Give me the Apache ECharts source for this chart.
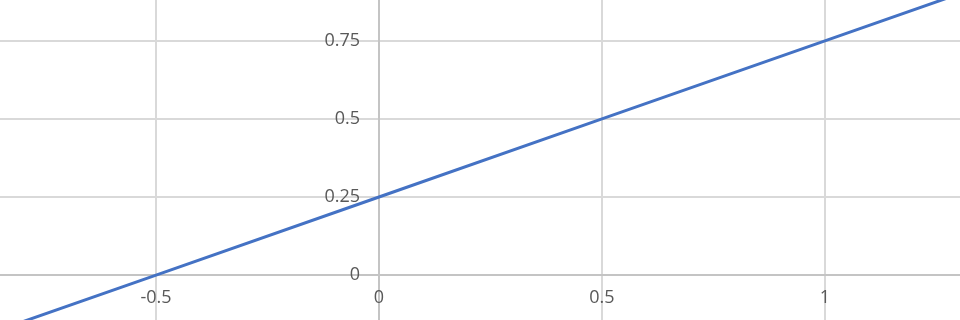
<!DOCTYPE html>
<html><head><meta charset="utf-8">
<script src="https://cdn.jsdelivr.net/npm/echarts@6/dist/echarts.min.js"></script>
<style>html,body{margin:0;padding:0;background:#fff;overflow:hidden}#c{width:960px;height:320px}</style>
</head><body><div id="c"></div>
<script>
var xValues = [-0.85, -0.5, 0, 0.5, 1, 1.3];
var yValues = [-0.175, 0, 0.25, 0.5, 0.75, 0.9];
var xTicks = [-0.5, 0, 0.5, 1];
var yTicks = [0, 0.25, 0.5, 0.75];
var xRange = [-0.85, 1.303];
var yRange = [-0.144, 0.881];

var chart = echarts.init(document.getElementById('c'), null, {renderer: 'canvas'});
var pts = xValues.map(function (x, i) { return [x, yValues[i]]; });
var font = {color: '#595959', fontSize: 18, fontFamily: 'Open Sans'};
var W = 960, H = 320;
var xZeroOffset = -H * (0 - yRange[0]) / (yRange[1] - yRange[0]);
var yZeroOffset = -W * (0 - xRange[0]) / (xRange[1] - xRange[0]);
chart.setOption({
  animation: false,
  grid: {left: 0, right: 0, top: 0, bottom: 0, containLabel: false, outerBoundsMode: 'none'},
  xAxis: {
    type: 'value', min: xRange[0], max: xRange[1], position: 'bottom', offset: xZeroOffset,
    axisLine: {show: true, onZero: false, lineStyle: {color: '#c4c4c4', width: 2}},
    axisTick: {show: false, customValues: xTicks},
    splitLine: {show: true, lineStyle: {color: '#d9d9d9', width: 2}},
    axisLabel: Object.assign({margin: 14, customValues: xTicks}, font)
  },
  yAxis: {
    type: 'value', min: yRange[0], max: yRange[1], position: 'left', offset: yZeroOffset,
    axisLine: {show: true, onZero: false, lineStyle: {color: '#c4c4c4', width: 2}},
    axisTick: {show: false, customValues: yTicks},
    splitLine: {show: true, lineStyle: {color: '#d9d9d9', width: 2}},
    axisLabel: Object.assign({margin: 19, customValues: yTicks}, font)
  },
  series: [{
    type: 'line', data: pts, showSymbol: false, symbol: 'none',
    lineStyle: {color: '#4472C4', width: 3}
  }]
});
</script></body></html>
